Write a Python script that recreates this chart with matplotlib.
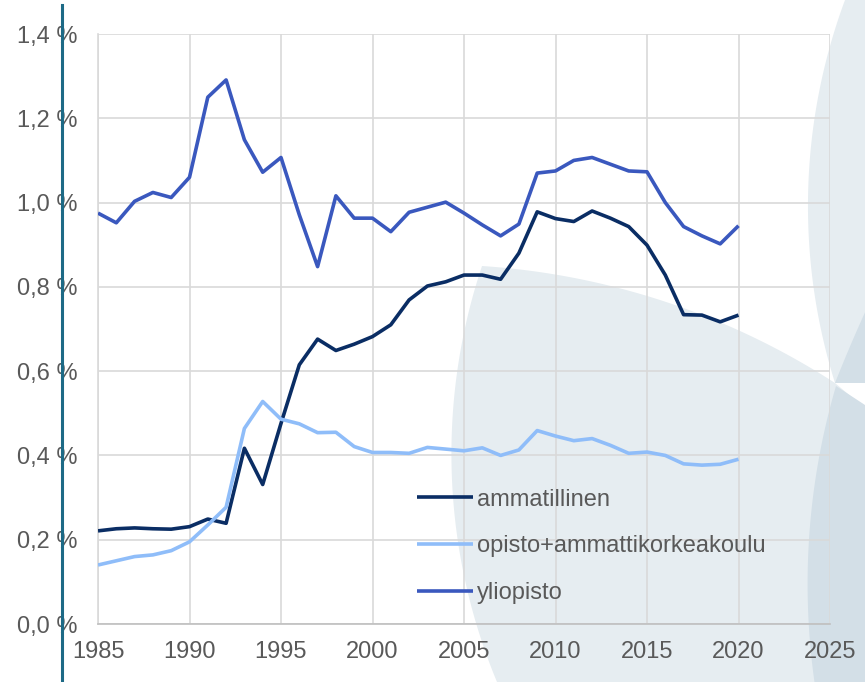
import numpy as np
import matplotlib.pyplot as plt
from matplotlib.patches import Polygon
from matplotlib.lines import Line2D
from matplotlib.ticker import FuncFormatter

plt.rcParams["font.family"] = ["Liberation Sans", "DejaVu Sans"]

years = list(range(1985, 2021))

ammatillinen = [0.221, 0.226, 0.228, 0.226, 0.225, 0.231, 0.249, 0.239, 0.417, 0.331,
                0.476, 0.615, 0.676, 0.649, 0.664, 0.682, 0.710, 0.769, 0.802, 0.812,
                0.828, 0.828, 0.818, 0.880, 0.978, 0.962, 0.955, 0.980, 0.963, 0.943,
                0.899, 0.828, 0.734, 0.733, 0.717, 0.733]

opisto_amk = [0.140, 0.150, 0.160, 0.164, 0.174, 0.195, 0.235, 0.277, 0.464, 0.528,
              0.486, 0.475, 0.454, 0.455, 0.421, 0.407, 0.407, 0.405, 0.419, 0.415,
              0.411, 0.418, 0.400, 0.413, 0.459, 0.446, 0.435, 0.440, 0.424, 0.405,
              0.408, 0.400, 0.380, 0.377, 0.379, 0.391]

yliopisto = [0.975, 0.952, 1.003, 1.024, 1.012, 1.060, 1.250, 1.291, 1.149, 1.072,
             1.107, 0.971, 0.848, 1.016, 0.963, 0.963, 0.931, 0.977, 0.989, 1.001,
             0.975, 0.947, 0.921, 0.949, 1.070, 1.075, 1.100, 1.107, 1.091, 1.075,
             1.073, 1.000, 0.943, 0.921, 0.902, 0.945]

series = [
    ("ammatillinen", ammatillinen, "#0a2d64"),
    ("opisto+ammattikorkeakoulu", opisto_amk, "#8fbdf9"),
    ("yliopisto", yliopisto, "#3a58be"),
]

W, H = 865, 682
LIGHT = "#e6edf1"
DARK = "#d3dfe7"


def arc3(p0, p1, p2, n=80):
    # circular arc from p0 through p1 to p2 (pixel coords)
    (ax_, ay), (bx, by), (cx, cy) = p0, p1, p2
    d = 2 * (ax_ * (by - cy) + bx * (cy - ay) + cx * (ay - by))
    ux = ((ax_**2 + ay**2) * (by - cy) + (bx**2 + by**2) * (cy - ay) + (cx**2 + cy**2) * (ay - by)) / d
    uy = ((ax_**2 + ay**2) * (cx - bx) + (bx**2 + by**2) * (ax_ - cx) + (cx**2 + cy**2) * (bx - ax_)) / d
    r = np.hypot(ax_ - ux, ay - uy)
    t0 = np.arctan2(ay - uy, ax_ - ux)
    t1 = np.arctan2(by - uy, bx - ux)
    t2 = np.arctan2(cy - uy, cx - ux)
    d02 = (t2 - t0) % (2 * np.pi)
    d01 = (t1 - t0) % (2 * np.pi)
    if d01 < d02:
        ts = np.linspace(t0, t0 + d02, n)
    else:
        ts = np.linspace(t0, t0 - (2 * np.pi - d02), n)
    return list(zip(ux + r * np.cos(ts), uy + r * np.sin(ts)))


def add_shape(fig, pts, color):
    xy = [(x / W, 1 - y / H) for x, y in pts]
    fig.add_artist(Polygon(xy, closed=True, facecolor=color, edgecolor="none",
                           transform=fig.transFigure, zorder=-1))


fig = plt.figure(figsize=(8.65, 6.82), dpi=100)
fig.patch.set_facecolor("white")

# decorative background petals
left_petal = arc3((835, 383), (660, 300), (482, 266)) + arc3((482, 266), (452, 480), (497, 682))
left_petal += [(540, 760), (950, 760), (950, 480)]
add_shape(fig, left_petal, LIGHT)

up_petal = arc3((835, 383), (808, 200), (845, 0)) + [(870, -80), (1000, -80), (1000, 300)]
add_shape(fig, up_petal, LIGHT)

upright_petal = arc3((835, 383), (858, 328), (900, 240)) + [(1000, 240), (1000, 383), (865, 383)]
add_shape(fig, upright_petal, DARK)

down_petal = arc3((836, 386), (808, 560), (830, 760)) + [(1000, 760), (1000, 420), (865, 405)]
add_shape(fig, down_petal, DARK)

ax = fig.add_axes([98 / W, 1 - 624 / H, (830 - 98) / W, (624 - 34) / H])
ax.set_facecolor("none")

for label, vals, color in series:
    ax.plot(years, vals, color=color, lw=2.6, label=label, solid_capstyle="butt", zorder=3)

ax.set_xlim(1985, 2025)
ax.set_ylim(0, 1.4)
ax.set_xticks(range(1985, 2026, 5))
ax.set_yticks(np.arange(0, 1.41, 0.2))
ax.yaxis.set_major_formatter(FuncFormatter(lambda v, p: f"{v:.1f} %".replace(".", ",")))

ax.grid(True, color="#d9d9d9", lw=1.2)
ax.set_axisbelow(True)
for side in ["top", "right"]:
    ax.spines[side].set_visible(False)
ax.spines["left"].set_color("#d9d9d9")
ax.spines["left"].set_linewidth(1.2)
ax.spines["bottom"].set_color("#bfbfbf")
ax.spines["bottom"].set_linewidth(1.2)
ax.tick_params(length=0, labelsize=17, labelcolor="#595959")
ax.tick_params(axis="y", pad=15)
ax.tick_params(axis="x", pad=12.5)

ax.legend(loc="center left", bbox_to_anchor=(0.436, 0.1314), frameon=False,
          fontsize=17, labelcolor="#595959", handlelength=2.35, handletextpad=0.18,
          labelspacing=1.05, borderpad=0, borderaxespad=0)

# teal vertical rule on the left
fig.add_artist(Line2D([62 / W, 62 / W], [0, 1 - 5 / H], color="#1d6a86", lw=2.2,
                      transform=fig.transFigure, zorder=5))

plt.savefig("out.png", dpi=100)
